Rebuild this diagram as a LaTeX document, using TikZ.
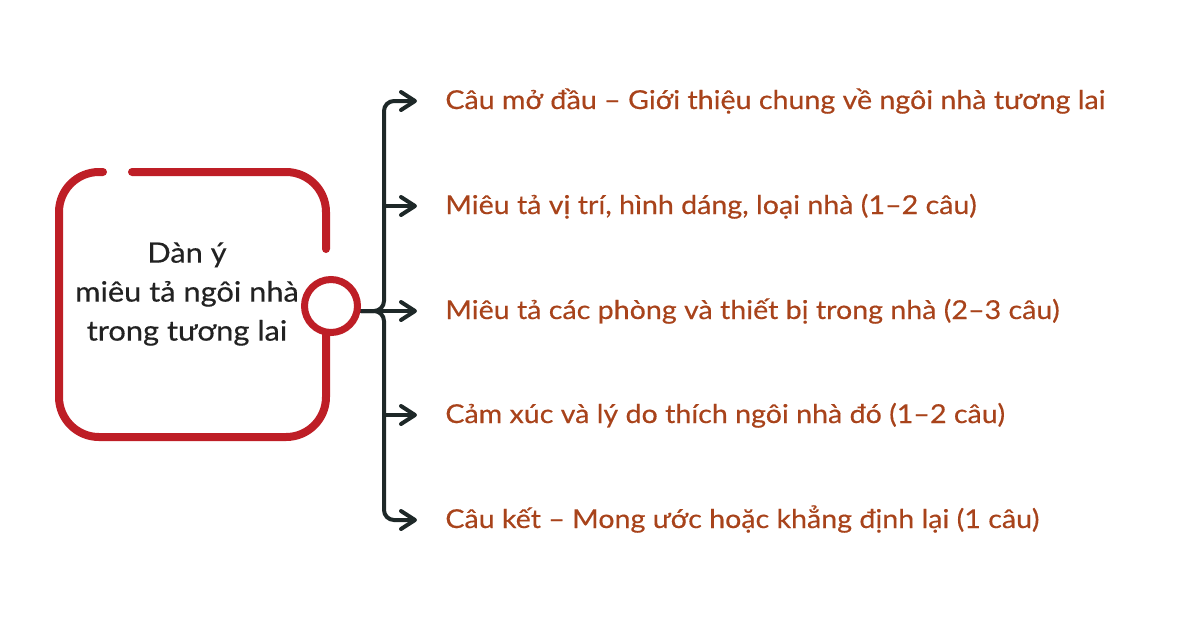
\documentclass[tikz,border=0pt]{standalone}
\usepackage{fontspec}
\setmainfont{Lato}[FakeStretch=1.1,FakeBold=0.4]
\usetikzlibrary{arrows.meta,backgrounds}
\definecolor{dored}{HTML}{BE1E26}
\definecolor{dodark}{HTML}{1E2828}
\definecolor{dobrown}{HTML}{A8431B}
\definecolor{dotext}{HTML}{222222}
\begin{document}
\begin{tikzpicture}[x=0.5pt,y=-0.5pt,
  box line/.style={draw=dored,line width=4pt,line cap=round,rounded corners=20pt},
  hub/.style={circle,draw=dored,fill=white,line width=3.5pt,minimum size=26.5pt,inner sep=0pt},
  title/.style={align=center,text=dotext,font=\fontsize{14}{19.5}\selectfont},
  item/.style={anchor=west,inner sep=0pt,text height=8pt,text depth=0pt,text=dobrown,font=\fontsize{13}{15}\selectfont},
  conn/.style={draw=dodark,line width=2pt,line cap=round,rounded corners=5pt},
  arr/.style={conn,-{Straight Barb[length=7pt,width=9pt,round]},shorten >=14pt}]

  \useasboundingbox (0,0) rectangle (1200,628);

  \node [title] (dy) at (187,294) {Dàn ý\\miêu tả ngôi nhà\\trong tương lai};
  \node [hub] (tr) at (331,306) {};

%% itens
  \node [item] (mo) at (445,101) {Câu mở đầu – Giới thiệu chung về ngôi nhà tương lai};
  \node [item] (vt) at (445,206) {Miêu tả vị trí, hình dáng, loại nhà (1–2 câu)};
  \node [item] (ph) at (445,311) {Miêu tả các phòng và thiết bị trong nhà (2–3 câu)};
  \node [item] (cx) at (445,415) {Cảm xúc và lý do thích ngôi nhà đó (1–2 câu)};
  \node [item] (kt) at (445,520) {Câu kết – Mong ước hoặc khẳng định lại (1 câu)};

  \coordinate (br) at (384,311);

  \begin{pgfonlayer}{background}
    % khung
    \draw [box line] (103,172) -- (59,172) -- (59,437) -- (326,437) -- (326,300);
    \draw [box line] (326,249) -- (326,172) -- (132,172);

    % nhanh
    \draw [arr] (tr.east |- ph.west) -- (br) |- (mo.west);
    \draw [arr] (tr.east |- ph.west) -- (br) |- (kt.west);
    \draw [arr] (tr.east |- ph.west) -- (ph.west);
    \draw [arr] (br |- vt.west) -- (vt.west);
    \draw [arr] (br |- cx.west) -- (cx.west);
  \end{pgfonlayer}
\end{tikzpicture}
\end{document}
